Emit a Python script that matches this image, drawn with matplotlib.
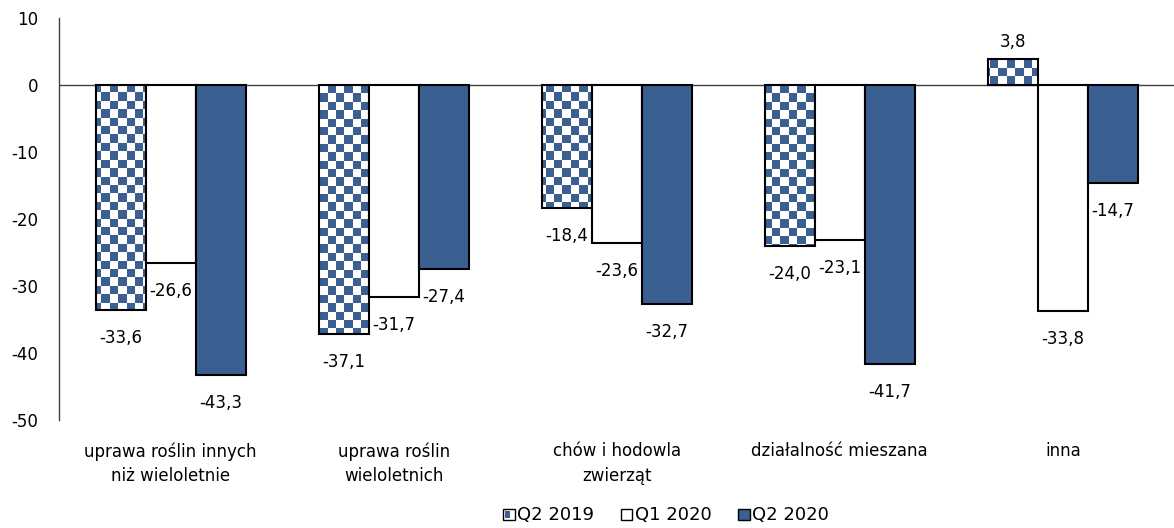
import matplotlib
matplotlib.use('Agg')
import matplotlib.pyplot as plt
import numpy as np
from matplotlib.colors import ListedColormap
from matplotlib.patches import Rectangle, Patch
from matplotlib.legend_handler import HandlerPatch


categories = ['uprawa roślin innych\nniż wieloletnie', 'uprawa roślin\nwieloletnich',
              'chów i hodowla\nzwierząt', 'działalność mieszana', 'inna']
series_names = ['Q2 2019', 'Q1 2020', 'Q2 2020']
q2_2019 = [-33.6, -37.1, -18.4, -24.0, 3.8]
q1_2020 = [-26.6, -31.7, -23.6, -23.1, -33.8]
q2_2020 = [-43.3, -27.4, -32.7, -41.7, -14.7]

BLUE = '#3A6092'
FIG_SIZE = (11.74, 5.28)

plt.rcParams['font.family'] = ['DejaVu Sans']
plt.rcParams['font.size'] = 12
plt.rcParams['axes.unicode_minus'] = False


class CheckerHandler(HandlerPatch):
    def create_artists(self, legend, orig_handle, xdescent, ydescent, width, height, fontsize, trans):
        s = height * 0.9
        x0 = width - s
        outer = Rectangle((x0, -ydescent), s, s, facecolor='white', edgecolor='black', lw=1, transform=trans)
        inner = Rectangle((x0 + s * 0.2, -ydescent + s * 0.2), s * 0.4, s * 0.6, facecolor=BLUE,
                          edgecolor='none', transform=trans)
        return [outer, inner]


class SquareHandler(HandlerPatch):
    def create_artists(self, legend, orig_handle, xdescent, ydescent, width, height, fontsize, trans):
        s = height * 0.9
        r = Rectangle((width - s, -ydescent), s, s, facecolor=orig_handle.get_facecolor(),
                      edgecolor='black', lw=1, transform=trans)
        return [r]


fig = plt.figure(figsize=FIG_SIZE, dpi=100)
ax = fig.add_axes([0.0503, 0.2045, 0.95, 0.7615])

x = np.arange(len(categories))
w = 0.224
ylim = (-50, 10)
xlim = (-0.5, len(categories) - 0.5)
ax.set_xlim(*xlim)
ax.set_ylim(*ylim)

# checker image spanning the axes, clipped to each Q2 2019 bar
nx, ny = 133, 48
checker = (np.add.outer(np.arange(ny), np.arange(nx)) % 2).astype(float)
cmap = ListedColormap(['white', BLUE])

bars1 = ax.bar(x - w, q2_2019, w, facecolor='none', edgecolor='black', lw=1.5, zorder=3)
for b in bars1:
    im = ax.imshow(checker, cmap=cmap, extent=(*xlim, *ylim), aspect='auto',
                   interpolation='nearest', zorder=2, origin='lower')
    im.set_clip_path(b)
bars2 = ax.bar(x, q1_2020, w, facecolor='white', edgecolor='black', lw=1.5, zorder=3)
bars3 = ax.bar(x + w, q2_2020, w, facecolor=BLUE, edgecolor='black', lw=1.5, zorder=3)

for bars, vals in [(bars1, q2_2019), (bars2, q1_2020), (bars3, q2_2020)]:
    for b, v in zip(bars, vals):
        off = 17 if v > 0 else -28
        ax.annotate(f'{v:.1f}'.replace('.', ','), (b.get_x() + b.get_width() / 2, v),
                    xytext=(0, off * 0.72), textcoords='offset points',
                    ha='center', va='center', fontsize=12, zorder=5)

ax.axhline(0, color='#404040', lw=1, zorder=1)
ax.set_yticks(np.arange(-50, 11, 10))
ax.set_xticks(x)
ax.set_xticklabels(categories, linespacing=1.45)
ax.tick_params(axis='x', length=0, pad=16)
ax.tick_params(axis='y', length=0, pad=15, labelsize=12)
for s in ['top', 'right', 'bottom']:
    ax.spines[s].set_visible(False)
ax.spines['left'].set_color('#404040')
ax.spines['left'].set_linewidth(1)

handles = [Patch(facecolor='white'), Patch(facecolor='white'), Patch(facecolor=BLUE)]
ax.legend(handles, series_names, loc='center', bbox_to_anchor=(0.543, -0.237),
          ncol=3, frameon=False, handlelength=0.8, handletextpad=0.15, columnspacing=1.3,
          fontsize=13, handler_map={handles[0]: CheckerHandler(), handles[1]: SquareHandler(),
                                    handles[2]: SquareHandler()})

fig.savefig('out.png', dpi=100)
